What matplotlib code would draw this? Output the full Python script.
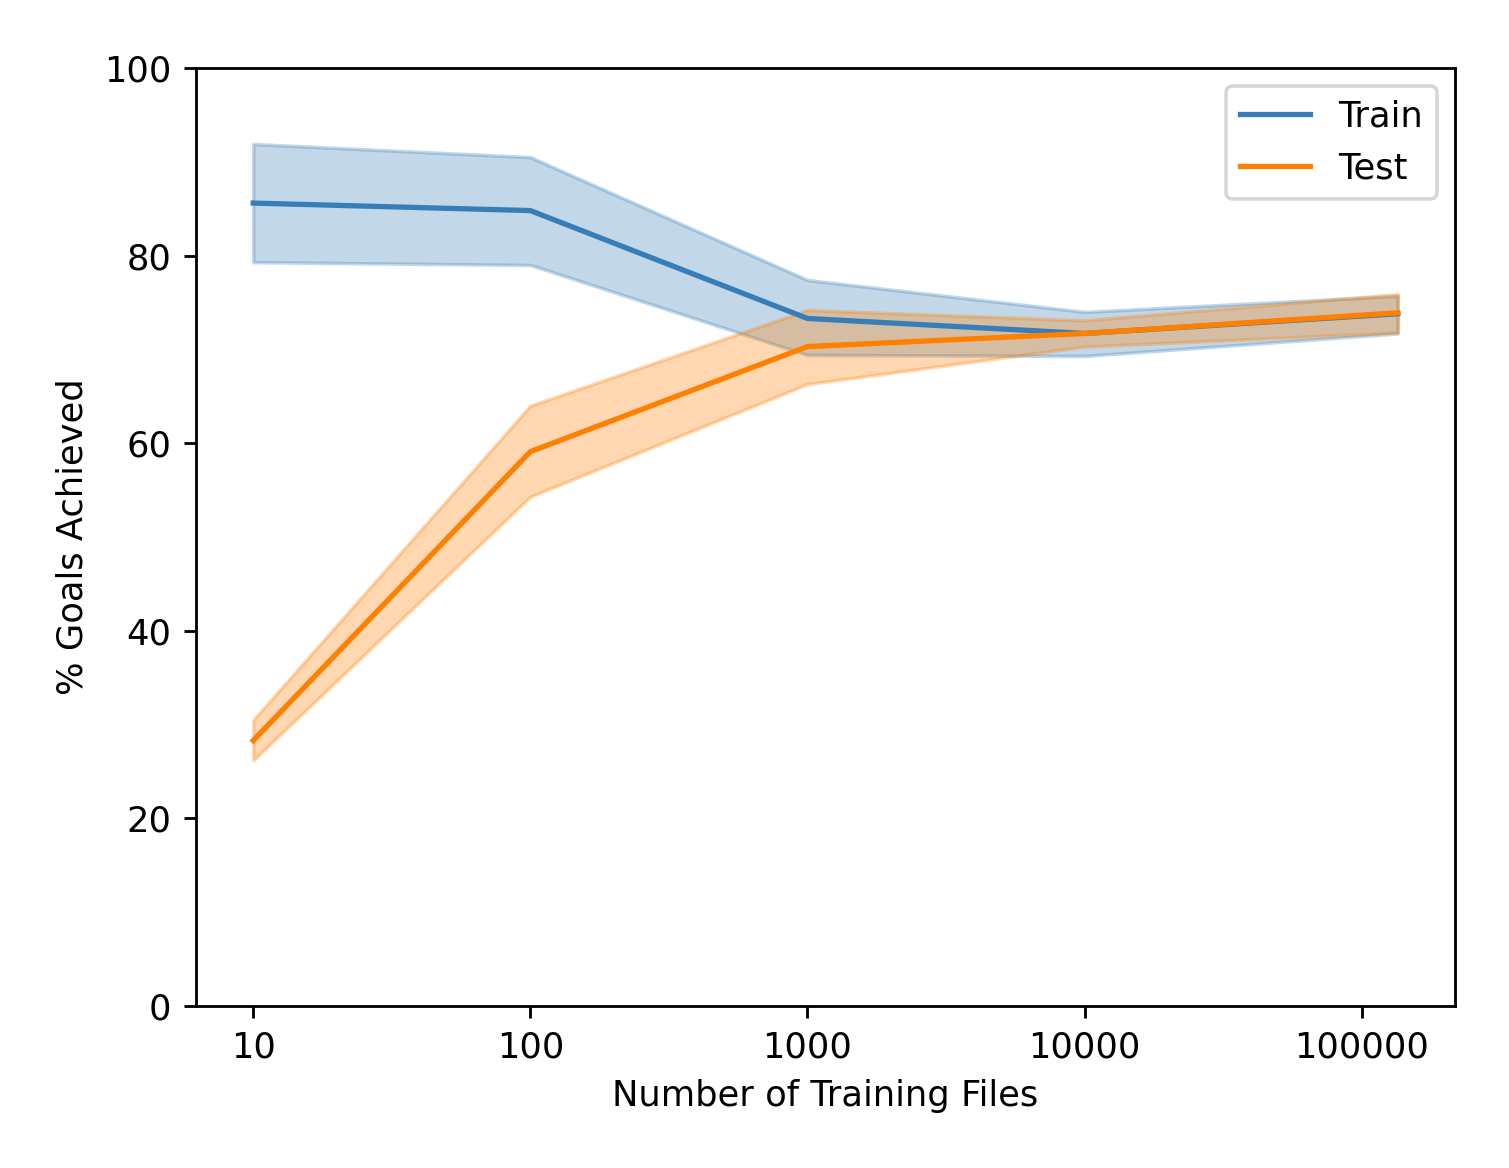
import matplotlib
matplotlib.use("Agg")
import matplotlib.pyplot as plt
from matplotlib.ticker import NullLocator

# Données
n_fichiers = [10, 100, 1000, 10000, 135000]

train_moy = [85.6, 84.8, 73.3, 71.7, 73.8]
train_bas = [79.3, 79.0, 69.4, 69.3, 71.7]
train_haut = [91.9, 90.5, 77.4, 74.0, 75.7]

test_moy = [28.3, 59.1, 70.3, 71.7, 73.9]
test_bas = [26.2, 54.3, 66.3, 70.3, 71.8]
test_haut = [30.5, 64.0, 74.2, 73.1, 75.9]

graduations = [10, 100, 1000, 10000, 100000]

BLEU = "#377eb8"
ORANGE = "#ff7f00"

fig = plt.figure(figsize=(1509 / 254, 1168 / 254), dpi=254)
ax = fig.add_axes([196 / 1509, 162 / 1168, 1259 / 1509, 938 / 1168])

ax.plot(n_fichiers, train_moy, color=BLEU, lw=1.5, label="Train")
ax.fill_between(n_fichiers, train_bas, train_haut, color=BLEU, alpha=0.3)
ax.plot(n_fichiers, test_moy, color=ORANGE, lw=1.5, label="Test")
ax.fill_between(n_fichiers, test_bas, test_haut, color=ORANGE, alpha=0.3)

ax.set_xscale("log")
ax.set_xticks(graduations)
ax.set_xticklabels([str(g) for g in graduations])
ax.xaxis.set_minor_locator(NullLocator())
ax.set_ylim(0, 100)

ax.set_xlabel("Number of Training Files")
ax.set_ylabel("% Goals Achieved")
ax.legend(loc="upper right")

fig.savefig("out.png", dpi=254)
